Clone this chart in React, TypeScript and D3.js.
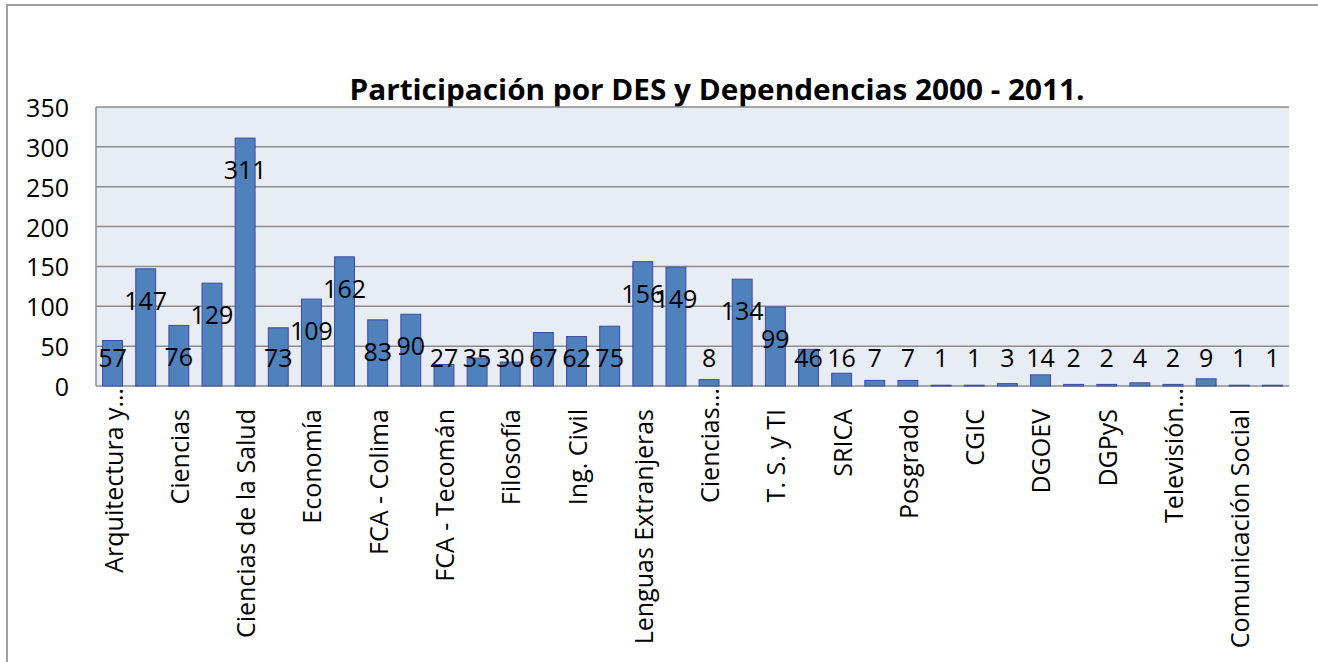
import React from "react";
import * as d3 from "d3";

const values = [57, 147, 76, 129, 311, 73, 109, 162, 83, 90, 27, 35, 30, 67, 62, 75, 156, 149, 8, 134, 99, 46, 16, 7, 7, 1, 1, 3, 14, 2, 2, 4, 2, 9, 1, 1];
// labels shown on every other bar (even indices)
const shownLabels = [
  "Arquitectura y…", "Ciencias", "Ciencias de la Salud", "Economía", "FCA - Colima",
  "FCA - Tecomán", "Filosofía", "Ing. Civil", "Lenguas Extranjeras", "Ciencias…",
  "T. S. y TI", "SRICA", "Posgrado", "CGIC", "DGOEV", "DGPyS", "Televisión…", "Comunicación Social",
];
const yTicks = [0, 50, 100, 150, 200, 250, 300, 350];
const title = "Participación por DES y Dependencias 2000 - 2011.";

const W = 1318, H = 662;
const plot = { left: 96, right: 1289, top: 107, bottom: 386 };
const FONT = "'Open Sans', sans-serif";

export default function App() {
  const x = d3.scaleBand<number>().domain(values.map((_, i) => i)).range([plot.left, plot.right]).paddingInner(0.4).paddingOuter(0.2);
  const y = d3.scaleLinear().domain([0, 350]).range([plot.bottom, plot.top]);
  const bw = x.bandwidth();
  return (
    <svg width={W} height={H} style={{ position: "absolute", left: 0, top: 0, background: "#fff" }}>
      <rect x={7} y={5} width={W + 10} height={H + 10} fill="#fff" stroke="#a0a0a0" strokeWidth={2} />
      <text x={717} y={100} textAnchor="middle" fontFamily={FONT} fontWeight="bold" fontSize={28} textLength={735} lengthAdjust="spacingAndGlyphs" fill="#000">{title}</text>
      <rect x={plot.left} y={plot.top} width={plot.right - plot.left} height={plot.bottom - plot.top} fill="#e8ecf4" />
      {yTicks.map((t) => (
        <g key={t}>
          <line x1={plot.left} x2={plot.right} y1={y(t)} y2={y(t)} stroke="#8c8c8c" strokeWidth={1.5} />
          <text x={69} y={y(t)} textAnchor="end" dominantBaseline="central" fontFamily={FONT} fontSize={25} fill="#000">{t}</text>
        </g>
      ))}
      <line x1={plot.left} x2={plot.left} y1={plot.top} y2={plot.bottom} stroke="#8c8c8c" strokeWidth={1.5} />
      {values.map((v, i) => (
        <rect key={i} x={x(i)} y={y(v)} width={bw} height={plot.bottom - y(v)} fill="#4f81bd" stroke="#3f48a6" strokeWidth={1} />
      ))}
      {values.map((v, i) => (
        <text key={"l" + i} x={(x(i) as number) + bw / 2} y={Math.min(y(v) + 31, y(0) - 29)} textAnchor="middle" dominantBaseline="central" fontFamily={FONT} fontSize={25} fill="#000">{v}</text>
      ))}
      {shownLabels.map((lab, k) => {
        const i = k * 2;
        const cx = (x(i) as number) + bw / 2;
        const ty = lab.endsWith("…") ? 388 : 409;
        return (
          <text key={"c" + k} transform={`translate(${cx},${ty}) rotate(-90)`} textAnchor="end" dominantBaseline="central" fontFamily={FONT} fontSize={25} fill="#000">{lab}</text>
        );
      })}
    </svg>
  );
}
